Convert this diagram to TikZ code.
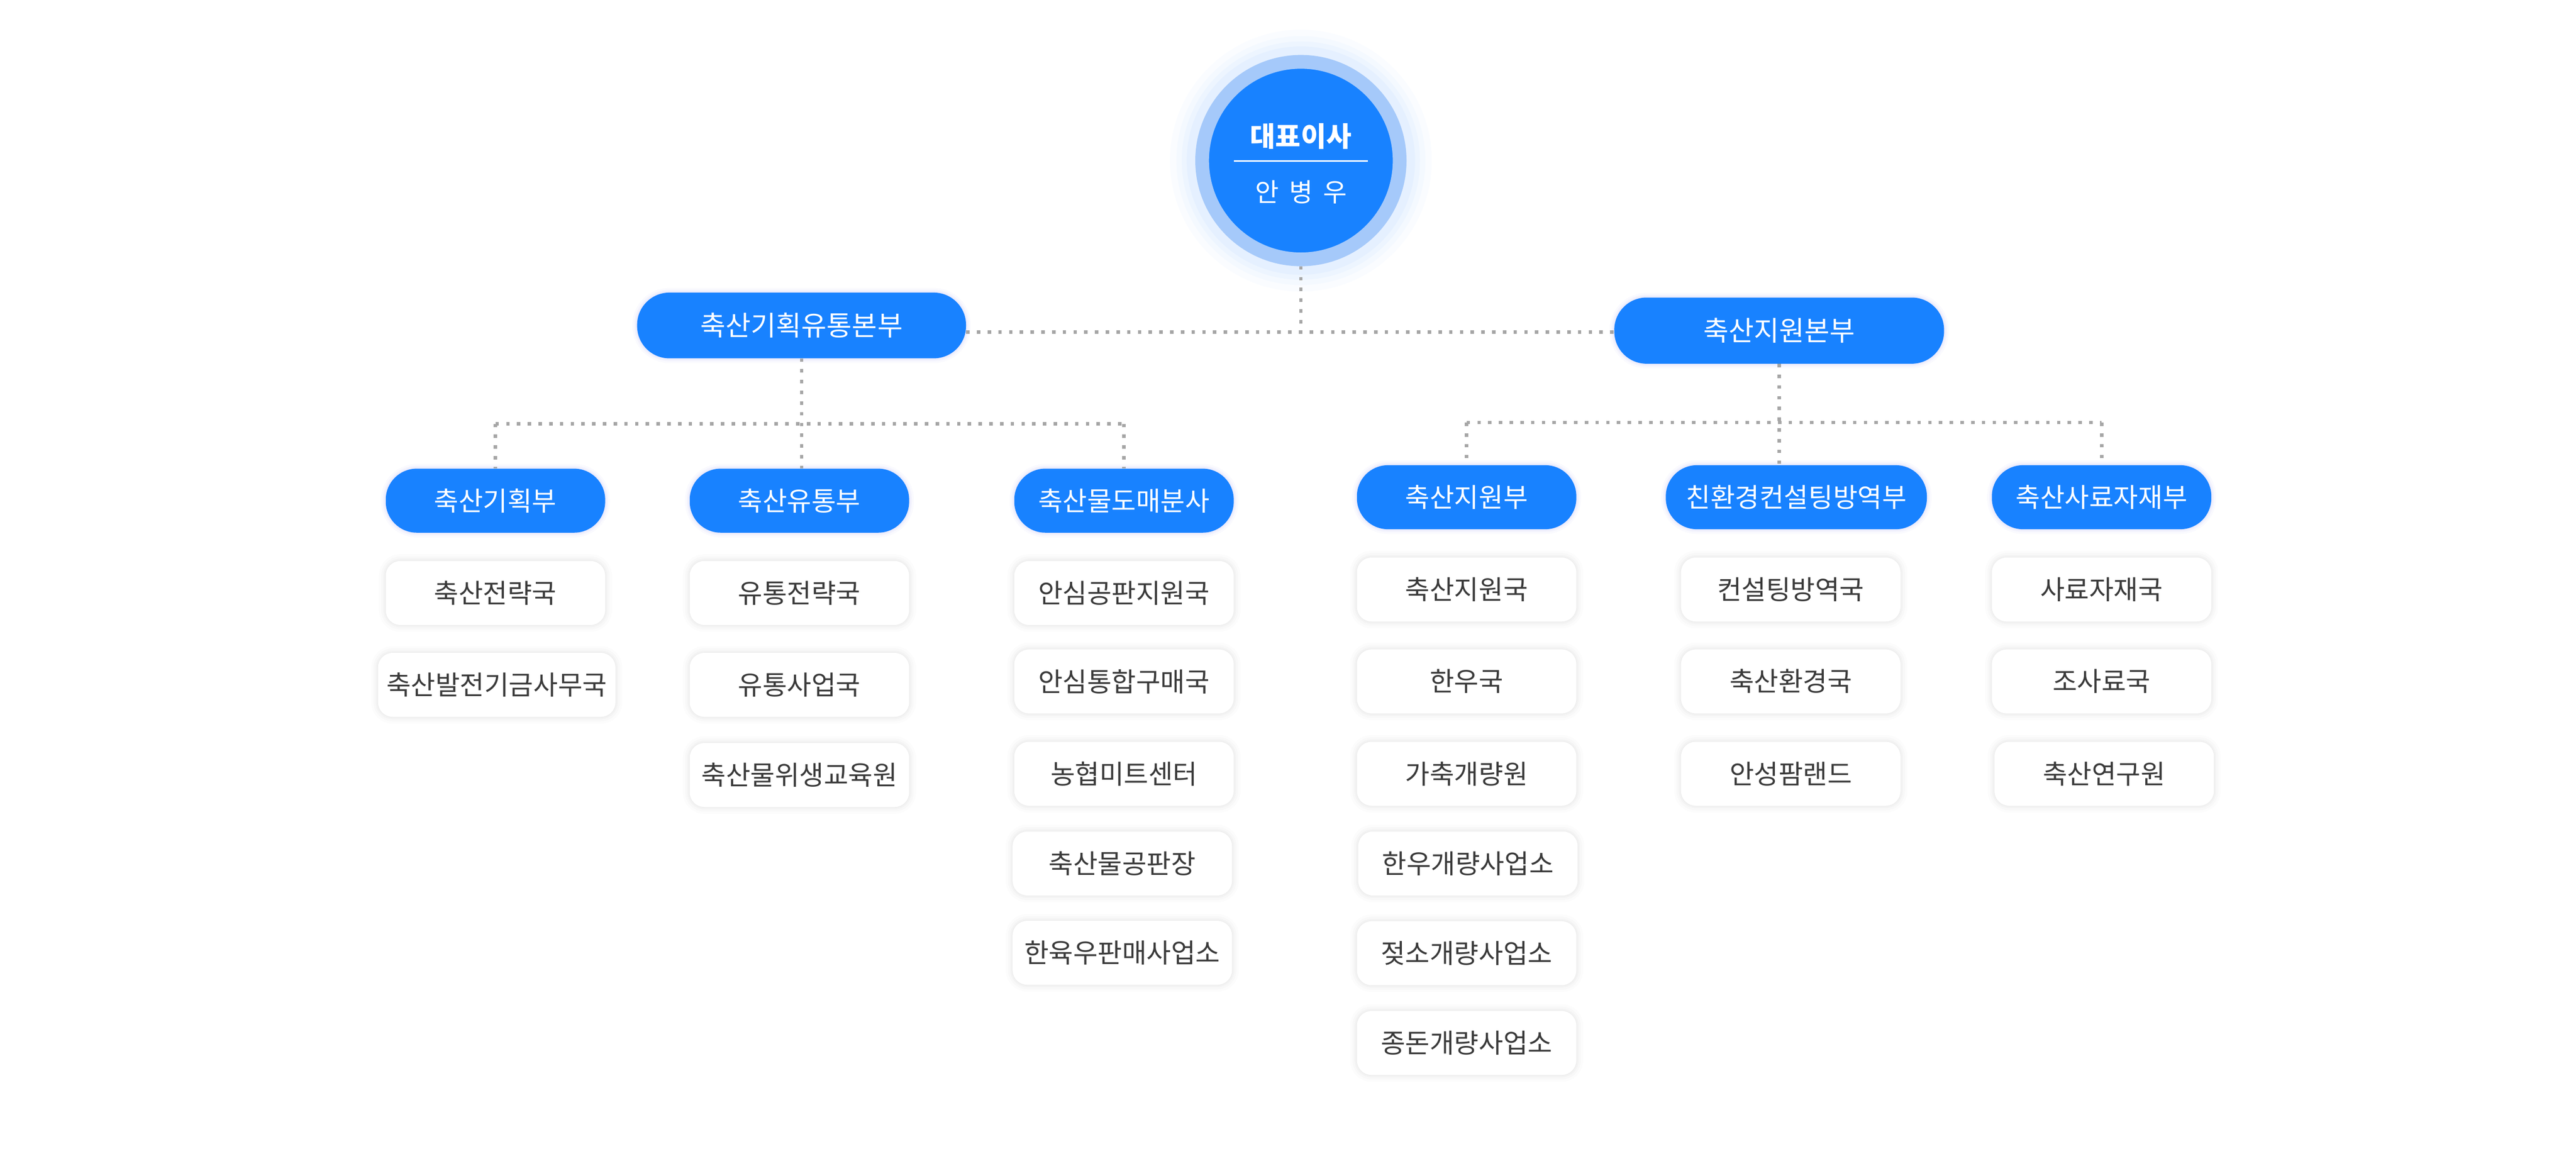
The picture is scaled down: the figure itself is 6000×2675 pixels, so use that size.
\documentclass[tikz,border=0pt]{standalone}
\usepackage{fontspec}
\setmainfont{Noto Sans CJK KR}
\usetikzlibrary{calc}
\definecolor{mainblue}{HTML}{1882FF}
\definecolor{ringblue}{HTML}{A5C9FA}
\definecolor{dotgray}{HTML}{A6A6A6}
\definecolor{txtgray}{HTML}{3A3A3A}
\definecolor{glowviolet}{HTML}{6E6EF0}
\tikzset{
  conn/.style={draw=dotgray, line width=8pt, dash pattern=on 8pt off 17pt},
  bglow/.style={
    preaction={draw=glowviolet, draw opacity=0.03, line width=22pt},
    preaction={draw=glowviolet, draw opacity=0.045, line width=13pt},
    preaction={draw=glowviolet, draw opacity=0.06, line width=6pt}},
  wglow/.style={
    preaction={draw=black, draw opacity=0.012, line width=32pt},
    preaction={draw=black, draw opacity=0.015, line width=21pt},
    preaction={draw=black, draw opacity=0.02, line width=11pt},
    preaction={draw=black, draw opacity=0.02, line width=4pt}},
  topbox/.style={bglow, fill=mainblue, text=white, rounded corners=75pt,
    minimum width=766pt, minimum height=153pt, inner sep=0pt,
    font=\fontsize{64pt}{76pt}\selectfont},
  midbox/.style={bglow, fill=mainblue, text=white, rounded corners=72pt,
    minimum width=511pt, minimum height=149pt, inner sep=0pt,
    font=\fontsize{62pt}{74pt}\selectfont},
  wbox/.style={wglow, fill=white, text=txtgray, rounded corners=34pt,
    minimum width=511pt, minimum height=149pt, inner sep=0pt,
    font=\fontsize{62pt}{74pt}\selectfont},
  ceobox/.style={circle, fill=mainblue, draw=ringblue, line width=32pt,
    minimum size=460pt, inner sep=0pt,
    preaction={draw=mainblue, draw opacity=0.02, line width=150pt},
    preaction={draw=mainblue, draw opacity=0.025, line width=120pt},
    preaction={draw=mainblue, draw opacity=0.03, line width=95pt},
    preaction={draw=mainblue, draw opacity=0.035, line width=72pt}},
  ceotext/.style={text=white, inner sep=0pt}
}
\begin{document}
\begin{tikzpicture}[x=1pt, y=-1pt]
\fill[white] (0,0) rectangle (6000,2675);
\useasboundingbox (0,0) rectangle (6000,2675);

% CEO
\node[ceobox] (ceo) at (3030,374) {};
\node[ceotext, font=\fontsize{64pt}{74pt}\selectfont\bfseries] (ceot) at (3030,317) {대표이사};
\node[ceotext, font=\fontsize{60pt}{70pt}\selectfont] (ceon) at (3030,447) {\spaceskip=24pt 안 병 우};
\draw[white, line width=3pt] ($(ceo.center)+(-156,1)$) -- ($(ceo.center)+(156,1)$);

% Level 1
\node[topbox] (L1a) at (1867,758) {축산기획유통본부};
\node[topbox, minimum width=768pt, minimum height=154pt] (L1b) at (4144,770) {축산지원본부};

% Level 2
\node[midbox] (L2a) at (1154,1166) {축산기획부};
\node[midbox] (L2b) at (1862,1166) {축산유통부};
\node[midbox] (L2c) at (2618,1166) {축산물도매분사};
\node[midbox] (L2d) at (3416,1158) {축산지원부};
\node[midbox, minimum width=608pt] (L2e) at (4184,1158) {친환경컨설팅방역부};
\node[midbox] (L2f) at (4895,1158) {축산사료자재부};

% Column 1
\node[wbox] (a1) at (1154,1381) {축산전략국};
\node[wbox, minimum width=553pt] (a2) at (1157,1595) {축산발전기금사무국};
% Column 2
\node[wbox] (b1) at (1862,1381) {유통전략국};
\node[wbox] (b2) at (1862,1595) {유통사업국};
\node[wbox] (b3) at (1862,1805) {축산물위생교육원};
% Column 3
\node[wbox] (c1) at (2618,1381) {안심공판지원국};
\node[wbox] (c2) at (2618,1587) {안심통합구매국};
\node[wbox] (c3) at (2618,1802) {농협미트센터};
\node[wbox] (c4) at (2614,2011) {축산물공판장};
\node[wbox] (c5) at (2614,2219) {한육우판매사업소};
% Column 4
\node[wbox] (d1) at (3416,1373) {축산지원국};
\node[wbox] (d2) at (3416,1587) {한우국};
\node[wbox] (d3) at (3416,1802) {가축개량원};
\node[wbox] (d4) at (3419,2011) {한우개량사업소};
\node[wbox] (d5) at (3416,2220) {젖소개량사업소};
\node[wbox] (d6) at (3416,2429) {종돈개량사업소};
% Column 5
\node[wbox] (e1) at (4171,1373) {컨설팅방역국};
\node[wbox] (e2) at (4171,1587) {축산환경국};
\node[wbox] (e3) at (4171,1802) {안성팜랜드};
% Column 6
\node[wbox] (f1) at (4895,1373) {사료자재국};
\node[wbox] (f2) at (4895,1587) {조사료국};
\node[wbox] (f3) at (4901,1802) {축산연구원};

% Connectors
\coordinate (j0) at (3034,773);
\draw[conn] (ceo.south) -- (ceo.south |- j0);
\draw[conn] (L1a.east |- j0) -- (L1b.west |- j0);

\coordinate (jL) at (1866,987);
\draw[conn] (L1a.south) -- (L1a.south |- L2b.north);
\draw[conn] (L2a.north |- jL) -- (L2c.north |- jL);
\draw[conn] (L2a.north |- jL) -- (L2a.north);
\draw[conn] (L2c.north |- jL) -- (L2c.north);

\coordinate (jR) at (4143,984);
\draw[conn] (L1b.south) -- (L1b.south |- L2e.north);
\draw[conn] (L2d.north |- jR) -- (L2f.north |- jR);
\draw[conn] (L2d.north |- jR) -- (L2d.north);
\draw[conn] (L2f.north |- jR) -- (L2f.north);
\end{tikzpicture}
\end{document}
